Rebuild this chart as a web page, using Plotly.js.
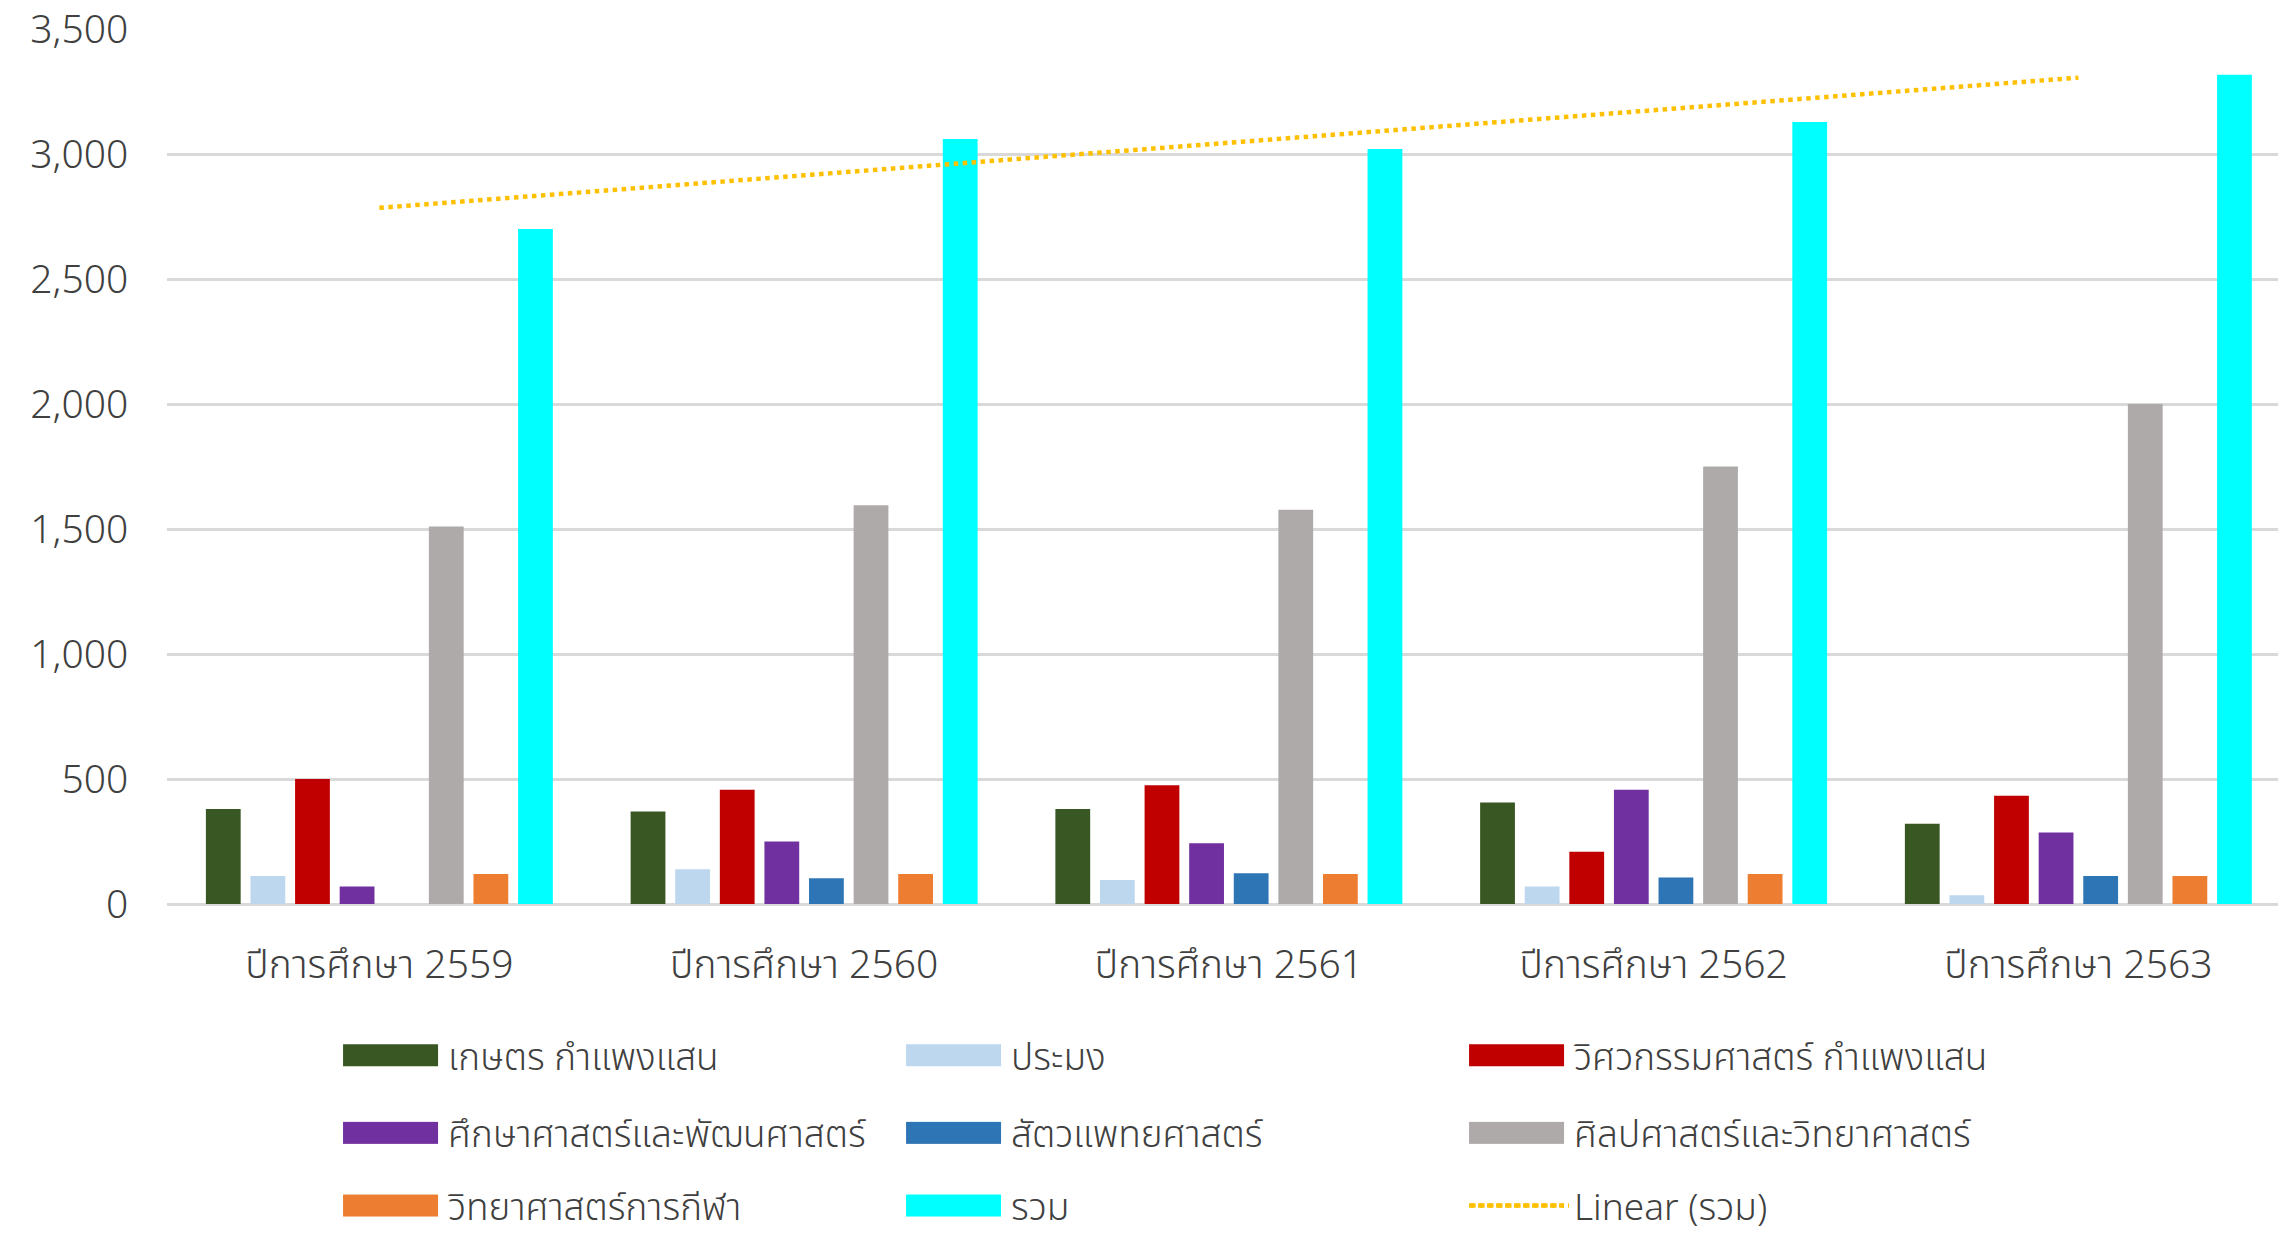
<!DOCTYPE html>
<html>
<head>
<meta charset="utf-8">
<script src="https://cdn.plot.ly/plotly-3.0.1.min.js"></script>
<style>
  html, body { margin: 0; padding: 0; background: #ffffff; }
  #chart { width: 2278px; height: 1242px; }
</style>
</head>
<body>
<div id="chart"></div>
<script>
const years = ['ปีการศึกษา 2559', 'ปีการศึกษา 2560', 'ปีการศึกษา 2561', 'ปีการศึกษา 2562', 'ปีการศึกษา 2563'];
const kaset  = [380, 370, 380, 406, 321];
const pramong = [112, 139, 96, 70, 35];
const eng    = [500, 457, 475, 209, 433];
const edu    = [70, 250, 243, 457, 286];
const vet    = [null, 103, 123, 106, 112];
const arts   = [1510, 1595, 1577, 1750, 2000];
const sport  = [120, 120, 120, 120, 112];
const total  = [2700, 3060, 3020, 3128, 3317];
const yTicks = [0, 500, 1000, 1500, 2000, 2500, 3000, 3500];

const seriesNames = ['เกษตร กำแพงแสน', 'ประมง', 'วิศวกรรมศาสตร์ กำแพงแสน',
  'ศึกษาศาสตร์และพัฒนศาสตร์', 'สัตวแพทยศาสตร์', 'ศิลปศาสตร์และวิทยาศาสตร์',
  'วิทยาศาสตร์การกีฬา', 'รวม'];
const seriesValues = [kaset, pramong, eng, edu, vet, arts, sport, total];
const seriesColors = ['#385723', '#bdd7ee', '#c00000', '#7030a0', '#2e75b6', '#aeaaaa', '#ed7d31', '#00ffff'];
const legendOf = ['legend', 'legend', 'legend', 'legend2', 'legend2', 'legend2', 'legend3', 'legend3'];

// Excel-style linear trendline of "รวม" (least squares on category index)
const n = total.length;
const xs = total.map((_, i) => i + 1);
const mx = xs.reduce((a, b) => a + b, 0) / n;
const my = total.reduce((a, b) => a + b, 0) / n;
let sxy = 0, sxx = 0;
for (let i = 0; i < n; i++) { sxy += (xs[i] - mx) * (total[i] - my); sxx += (xs[i] - mx) ** 2; }
const slope = sxy / sxx, icpt = my - slope * mx;
const trend = xs.map(x => icpt + slope * x);

const FONT = '"Noto Sans Thai", "Noto Sans", "DejaVu Sans", sans-serif';
const TXT = '#404040';

const traces = seriesNames.map((name, i) => ({
  type: 'bar', name: name, x: years, y: seriesValues[i],
  marker: { color: seriesColors[i], line: { width: 0 } },
  legend: legendOf[i], hoverinfo: 'y'
}));
traces.push({
  type: 'scatter', mode: 'lines', name: 'Linear (รวม)', x: years, y: trend,
  line: { color: '#ffc000', width: 4.5, dash: 'dot' }, legend: 'legend3', hoverinfo: 'skip'
});

const legendCommon = {
  orientation: 'h', xref: 'container', yref: 'container', x: 0.1484, xanchor: 'left',
  yanchor: 'middle', font: { family: FONT, size: 37, color: TXT, weight: 300 },
  itemwidth: 100, entrywidth: 448, entrywidthmode: 'pixels', bgcolor: 'rgba(0,0,0,0)',
  traceorder: 'normal', itemclick: false, itemdoubleclick: false
};

const layout = {
  width: 2278, height: 1242,
  margin: { l: 167, r: 0, t: 29, b: 338, pad: 0 },
  paper_bgcolor: '#ffffff', plot_bgcolor: '#ffffff',
  font: { family: FONT, color: TXT, size: 38 },
  barmode: 'group', bargap: 0.16, bargroupgap: 0.22,
  xaxis: {
    type: 'category', range: [-0.5, 4.47], showgrid: false, zeroline: false,
    showline: false, ticks: 'outside', ticklen: 26, tickcolor: 'rgba(0,0,0,0)',
    tickfont: { family: FONT, size: 39, color: TXT, weight: 300 }, fixedrange: true
  },
  yaxis: {
    range: [0, 3500], tickvals: yTicks, tickformat: ',d', showgrid: true,
    gridcolor: '#d9d9d9', gridwidth: 3, zeroline: true, zerolinecolor: '#d9d9d9', zerolinewidth: 3,
    showline: false, ticks: 'outside', ticklen: 30, tickcolor: 'rgba(0,0,0,0)',
    tickfont: { family: FONT, size: 39, color: TXT, weight: 300 }, fixedrange: true
  },
  legend: Object.assign({}, legendCommon, { y: 0.150 }),
  legend2: Object.assign({}, legendCommon, { y: 0.0875 }),
  legend3: Object.assign({}, legendCommon, { y: 0.029 }),
  showlegend: true
};

const NS = 'http://www.w3.org/2000/svg';
function fixLegend(gd) {
  gd.querySelectorAll('.infolayer .traces').forEach(function (g) {
    g.querySelectorAll('.custom-swatch').forEach(e => e.remove());
    const d = g.__data__;
    if (!d || !d[0] || !d[0].trace) return;
    const tr = d[0].trace;
    const txt = g.querySelector('.legendtext');
    const tx = txt ? parseFloat(txt.getAttribute('x')) : 110;
    const pts = g.querySelector('.legendpoints');
    if (pts) pts.style.display = 'none';
    const x0 = 5, w = tx - 15;
    if (tr.type === 'bar') {
      const r = document.createElementNS(NS, 'rect');
      r.setAttribute('class', 'custom-swatch');
      r.setAttribute('x', x0); r.setAttribute('y', -11);
      r.setAttribute('width', w); r.setAttribute('height', 22);
      r.setAttribute('fill', tr.marker.color);
      g.insertBefore(r, g.firstChild);
    } else {
      const l = document.createElementNS(NS, 'line');
      l.setAttribute('class', 'custom-swatch');
      l.setAttribute('x1', x0 + 2); l.setAttribute('x2', x0 + w);
      l.setAttribute('y1', 0); l.setAttribute('y2', 0);
      l.setAttribute('stroke', tr.line.color);
      l.setAttribute('stroke-width', 4.5);
      l.setAttribute('stroke-dasharray', '4.5,4.5');
      g.insertBefore(l, g.firstChild);
    }
  });
}

const gd = document.getElementById('chart');
Plotly.newPlot(gd, traces, layout, { displayModeBar: false, staticPlot: true }).then(function () {
  fixLegend(gd);
  gd.on('plotly_afterplot', function () { fixLegend(gd); });
});
</script>
</body>
</html>
